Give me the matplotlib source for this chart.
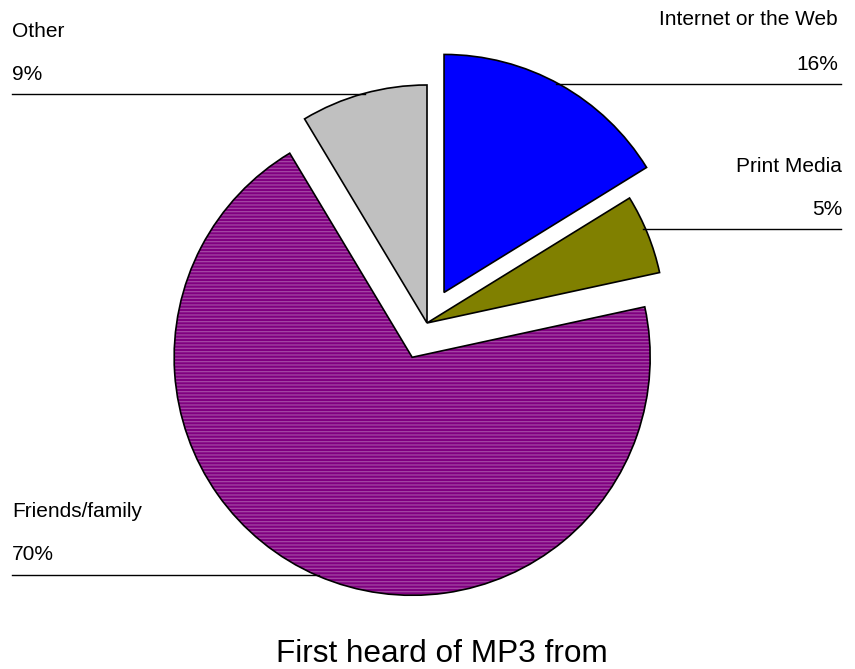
import numpy as np
import matplotlib.pyplot as plt

# Data (clockwise from 12 o'clock)
sources = ["Internet or the Web", "Print Media", "Friends/family", "Other"]
shares = [16.2, 5.4, 69.8, 8.6]
colors = ["#0000FF", "#808000", "#800080", "#C0C0C0"]
hatches = ["", "", "-----", ""]
stripe_colors = ["#3030FF", "#808000", "#A448A4", "#C0C0C0"]
explode_frac = [0.147, 0.0, 0.157, 0.0]

W, H = 855, 669
cx, cy, r = 427, 323, 238

plt.rcParams['font.family'] = ['Liberation Sans', 'DejaVu Sans']
plt.rcParams['hatch.linewidth'] = 0.9

fig = plt.figure(figsize=(W / 100, H / 100), dpi=100)
ax = fig.add_axes([0, 0, 1, 1])

# pie explode is in data units, scale by radius
explode = [e * r for e in explode_frac]

# y axis is flipped, so counterclock in data = clockwise on screen
wedges, _ = ax.pie(shares, explode=explode, colors=colors, startangle=-90,
                   counterclock=True, center=(cx, cy), radius=r,
                   wedgeprops=dict(linewidth=0))
for w, h, sc in zip(wedges, hatches, stripe_colors):
    if h:
        w.set_hatch(h)
        w.set_edgecolor(sc)
outline, _ = ax.pie(shares, explode=explode, startangle=-90,
                    counterclock=True, center=(cx, cy), radius=r,
                    wedgeprops=dict(fill=False, edgecolor='black', linewidth=1.2))

ax.set_xlim(0, W)
ax.set_ylim(H, 0)
ax.set_aspect('equal')
ax.axis('off')

# label layout: (text x, name baseline, pct baseline, leader y, side)
label_x = [838, 842, 12, 12]
name_y = [25, 172, 517, 37]
pct_y = [70, 215, 560, 80]
line_y = [84, 229, 575, 94]
side = ["right", "right", "left", "left"]

for i, w in enumerate(outline):
    ocx, ocy = w.center
    dy = line_y[i] - ocy
    dx = np.sqrt(max(w.r ** 2 - dy ** 2, 0))
    if side[i] == "right":
        x_edge = ocx + dx
        ax.plot([x_edge - 3, 841], [line_y[i]] * 2, color='black', lw=1.0)
    else:
        x_edge = ocx - dx
        ax.plot([12, x_edge + 3], [line_y[i]] * 2, color='black', lw=1.0)
    ax.text(label_x[i], name_y[i], sources[i], ha=side[i], va='baseline', fontsize=15)
    ax.text(label_x[i], pct_y[i], f"{shares[i]:.0f}%", ha=side[i], va='baseline', fontsize=15)

ax.text(442, 662, "First heard of MP3 from", ha='center', va='baseline', fontsize=22.7)

fig.savefig("out.png", dpi=100)
